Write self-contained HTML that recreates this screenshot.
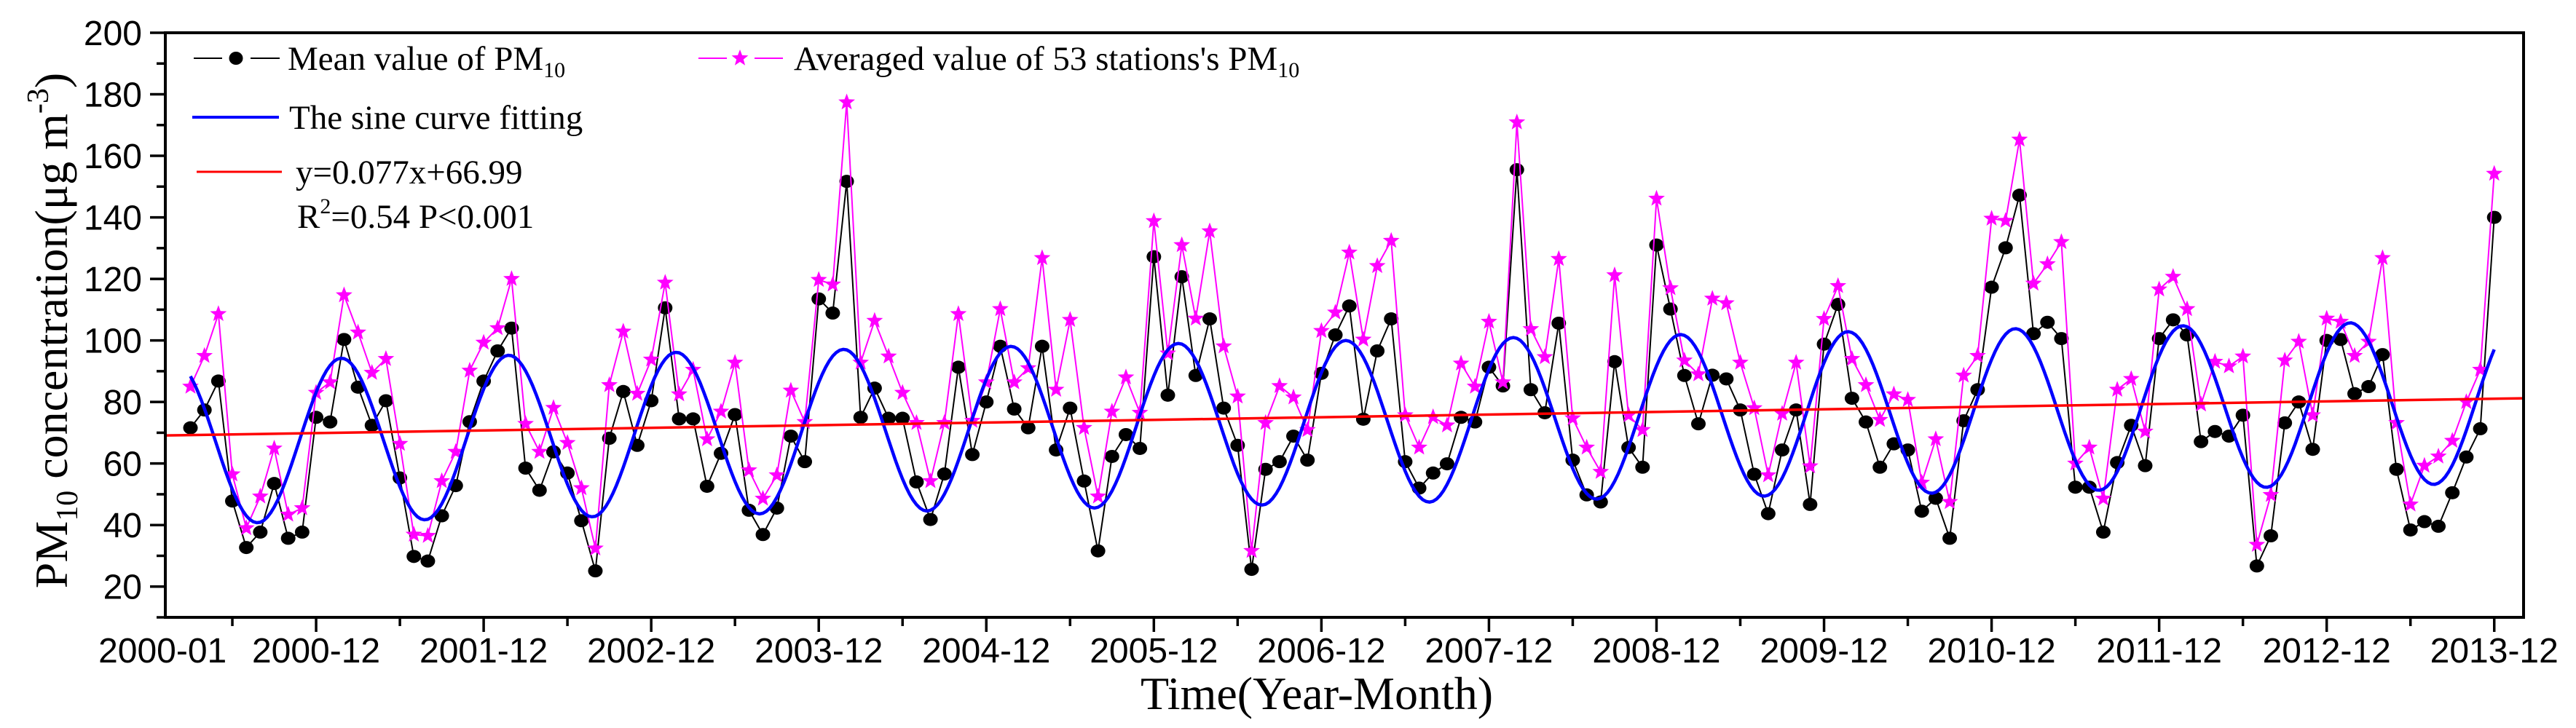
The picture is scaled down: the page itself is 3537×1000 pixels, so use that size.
<!DOCTYPE html>
<html><head><meta charset="utf-8"><style>
html,body{margin:0;padding:0;background:#fff;}
svg{display:block;}
</style></head><body>
<svg id="chart" width="3537" height="1000" viewBox="0 0 3537 1000" xmlns="http://www.w3.org/2000/svg">
<rect width="3537" height="1000" fill="#fff"/>
<g id="plot"></g>
<g id="axes"></g>
<g font-family="Liberation Serif, serif" font-size="47">
  <g>
    <line x1="266" y1="80" x2="305" y2="80" stroke="#000" stroke-width="2"/>
    <line x1="344" y1="80" x2="384" y2="80" stroke="#000" stroke-width="2"/>
    <ellipse cx="324" cy="80" rx="9.5" ry="9" fill="#000"/>
    <text x="395" y="96">Mean value of PM<tspan font-size="30" dy="10">10</tspan></text>
  </g>
  <g>
    <line x1="959" y1="80" x2="998" y2="80" stroke="#ff00ff" stroke-width="2"/>
    <line x1="1036" y1="80" x2="1075" y2="80" stroke="#ff00ff" stroke-width="2"/>
    <path id="legstar" fill="#ff00ff"/>
    <text x="1090" y="96">Averaged value of 53 stations's PM<tspan font-size="30" dy="10">10</tspan></text>
  </g>
  <g>
    <line x1="264" y1="161" x2="383" y2="161" stroke="#0000ff" stroke-width="4"/>
    <text x="397" y="177">The sine curve fitting</text>
  </g>
  <g>
    <line x1="270" y1="236" x2="387" y2="236" stroke="#ff0000" stroke-width="3"/>
    <text x="406" y="252">y=0.077x+66.99</text>
  </g>
  <text x="408" y="313">R<tspan font-size="30" dy="-20">2</tspan><tspan dy="20">=0.54  P&lt;0.001</tspan></text>
</g>
<text x="1808" y="974" text-anchor="middle" font-family="Liberation Serif, serif" font-size="64">Time(Year-Month)</text>
<text transform="translate(92,454) rotate(-90)" text-anchor="middle" font-family="Liberation Serif, serif" font-size="64">PM<tspan font-size="42" dy="14">10</tspan><tspan dy="-14"> concentration(μg m</tspan><tspan font-size="42" dy="-26">-3</tspan><tspan dy="26">)</tspan></text>
</svg>
<script>
const blackVals = [71.6,77.4,86.8,47.8,32.7,37.7,53.5,35.7,37.7,75,73.5,100.3,84.8,72.4,80.4,55.3,29.8,28.3,43,52.8,73.6,86.8,96.6,104,
58.5,51.3,63.8,56.9,41.4,25.1,68.2,83.4,65.9,80.4,110.6,74.5,74.5,52.6,63.3,75.9,44.8,36.9,45.5,68.9,60.6,113.5,108.9,151.7,75,84.5,74.7,74.7,54,41.8,56.6,
91.3,62.9,80,98.1,77.7,71.6,98.1,64.4,78,54.3,31.6,62.3,69.4,64.9,127.2,82.2,120.7,88.6,107,78,65.9,25.6,58.1,60.6,68.9,61.1,89.3,101.8,
111.2,74.4,96.6,107,60.6,52,56.9,59.9,75,73.5,91.3,85.2,155.5,84,76.5,105.6,61.1,49.8,47.5,93.1,65.2,58.8,131,110.2,88.6,72.9,88.7,87.5,77.4,
56.5,43.7,64.4,77.4,46.7,98.8,111.7,81.2,73.5,58.8,66.4,64.4,44.5,48.7,35.7,73.9,84,117.3,130.1,147.2,102.2,105.9,100.6,52.3,52.3,37.7,60.3,72.4,59.3,
100.6,106.7,101.8,67.1,70.4,68.9,75.7,26.7,36.5,73.2,80,64.6,100,100.3,82.7,85,95.4,58.1,38.4,41.1,39.6,50.5,62.1,71.3,140];
const starVals = [85,95,108.6,56.5,39,49.3,64.9,43.4,45.5,83,86.4,114.7,102.6,89.5,94,66.4,36.9,36.5,54.3,63.8,90.2,99.3,104,120,
72.9,63.8,78.1,66.7,52,32.4,85.5,102.9,82.7,93.8,118.8,82.5,90.5,67.9,76.9,92.8,57.8,48.6,56.2,83.7,73.5,119.7,118.2,177.4,92.8,106.4,94.8,83,73.2,54.3,73.2,
108.6,73.9,86.4,110.2,86.4,91,126.8,84,106.7,71.6,49.3,76.9,88,76.5,138.8,95.8,131,107.1,135.5,98.1,81.8,31.6,73.2,85.2,81.5,70.9,103.1,109.1,
128.6,100.3,124.2,132.4,75.7,65.2,75.1,72.4,92.5,85,106.1,86.4,170.9,103.7,94.6,126.5,74.7,65.2,57.3,121.2,75.7,70.9,146.1,117,93.5,89,113.6,112.1,92.8,
78,56.2,76.2,92.8,59.1,107,117.7,94,85.5,74.2,82.5,80.7,53.8,67.9,47.5,88.6,95,139.6,138.9,165.3,118.5,124.8,132,60,65.2,48.6,84,87.5,70.4,
116.6,120.7,110.2,79.2,93.1,91.6,94.8,33.6,49.8,93.5,99.6,75.7,107.1,106.1,95,99.6,126.8,73.2,46.7,59.3,62.3,67.4,80,90.5,154.2];
const xTickLabels = ["2000-01","2000-12","2001-12","2002-12","2003-12","2004-12","2005-12","2006-12","2007-12","2008-12","2009-12","2010-12","2011-12","2012-12","2013-12"];
const yTickLabels = [20,40,60,80,100,120,140,160,180,200];
const sineParams = [66.86, 0.08, 26.5, 10.8, 11.99];
const trendParams = [69.24, 0.0716];

const NS = "http://www.w3.org/2000/svg";
const L=227,R=3465,T=45,B=848;
const xMin=-1.8, xMax=167.1, yMin=10, yMax=200;
function xs(i){return L+(i-xMin)/(xMax-xMin)*(R-L);}
function ys(v){return B-(v-yMin)/(yMax-yMin)*(B-T);}
function mk(tag,attrs,parent){const e=document.createElementNS(NS,tag);for(const k in attrs)e.setAttribute(k,attrs[k]);parent.appendChild(e);return e;}
function starPath(cx,cy,r){let d="";for(let k=0;k<10;k++){const rr=k%2?r*0.42:r;const a=-Math.PI/2+k*Math.PI/5;d+=(k?"L":"M")+(cx+rr*Math.cos(a)).toFixed(1)+","+(cy+rr*Math.sin(a)).toFixed(1);}return d+"Z";}
document.getElementById('legstar').setAttribute('d',starPath(1016,80,12));

const plot=document.getElementById('plot');
const axes=document.getElementById('axes');

let d=blackVals.map((v,i)=>(i?"L":"M")+xs(i).toFixed(1)+","+ys(v).toFixed(1)).join("");
const bl=mk('path',{d:d,fill:'none',stroke:'#000','stroke-width':2},plot);


blackVals.forEach((v,i)=>{
  const c=mk('ellipse',{cx:xs(i),cy:ys(v),rx:10,ry:9,fill:'#000'},plot);
  
  
});
d=starVals.map((v,i)=>(i?"L":"M")+xs(i).toFixed(1)+","+ys(v).toFixed(1)).join("");
const ml=mk('path',{d:d,fill:'none',stroke:'#ff00ff','stroke-width':2},plot);


starVals.forEach((v,i)=>{
  const s=mk('path',{d:starPath(xs(i),ys(v),12),fill:'#ff00ff'},plot);
  
  
});
let sd="";
for(let t=0;t<=165;t+=0.25){const v=sineParams[0]+sineParams[1]*t+sineParams[2]*Math.cos(2*Math.PI*(t-sineParams[3])/sineParams[4]);sd+=(t?"L":"M")+xs(t).toFixed(1)+","+ys(v).toFixed(1);}
const sl=mk('path',{d:sd,fill:'none',stroke:'#0000ff','stroke-width':4.5},plot);


const tl=mk('line',{x1:xs(xMin),y1:ys(trendParams[0]+trendParams[1]*xMin),x2:xs(xMax),y2:ys(trendParams[0]+trendParams[1]*xMax),stroke:'#ff0000','stroke-width':3.5},plot);



const fr=mk('rect',{x:L,y:T,width:R-L,height:B-T,fill:'none',stroke:'#000','stroke-width':4},axes);


for(let v=yMin;v<=yMax;v+=10){
  const major=(v%20===0);
  const t=mk('line',{x1:L-(major?21:12),y1:ys(v),x2:L,y2:ys(v),stroke:'#000','stroke-width':3.5},axes);
  
  
}
yTickLabels.forEach(v=>{
  const t=mk('text',{x:195,y:ys(v)+17,'text-anchor':'end','font-family':'Liberation Sans, sans-serif','font-size':48},axes);
  t.textContent=v;
  
  
});
for(let k=0;k<14;k++){
  const im=9+12*k, mi=3+12*k;
  const a=mk('line',{x1:xs(im),y1:B,x2:xs(im),y2:B+20,stroke:'#000','stroke-width':3.5},axes);
  
  
  const b=mk('line',{x1:xs(mi),y1:B,x2:xs(mi),y2:B+12,stroke:'#000','stroke-width':3.5},axes);
  
  
}
xTickLabels.forEach((lab,k)=>{
  const xi=k===0?-2:9+12*(k-1);
  const t=mk('text',{x:xs(xi),y:910,'text-anchor':'middle','font-family':'Liberation Sans, sans-serif','font-size':48},axes);
  t.textContent=lab;
  
  
});
</script>
</body></html>
